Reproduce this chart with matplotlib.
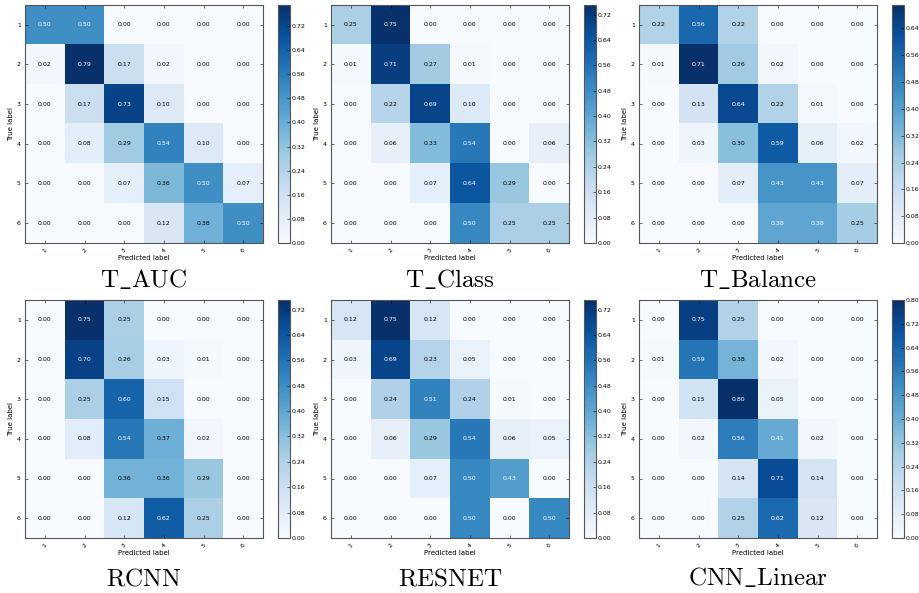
import numpy as np
import matplotlib
matplotlib.use("Agg")
import matplotlib.pyplot as plt
from matplotlib.ticker import MultipleLocator, FormatStrFormatter

plt.rcParams['mathtext.fontset'] = 'cm'

classes = ['1', '2', '3', '4', '5', '6']

# confusion matrices (normalized), rows = true label, cols = predicted label
t_auc = [
    [0.50, 0.50, 0.00, 0.00, 0.00, 0.00],
    [0.02, 0.79, 0.17, 0.02, 0.00, 0.00],
    [0.00, 0.17, 0.73, 0.10, 0.00, 0.00],
    [0.00, 0.08, 0.29, 0.54, 0.10, 0.00],
    [0.00, 0.00, 0.07, 0.36, 0.50, 0.07],
    [0.00, 0.00, 0.00, 0.12, 0.38, 0.50],
]
t_class = [
    [0.25, 0.75, 0.00, 0.00, 0.00, 0.00],
    [0.01, 0.71, 0.27, 0.01, 0.00, 0.00],
    [0.00, 0.22, 0.69, 0.10, 0.00, 0.00],
    [0.00, 0.06, 0.33, 0.54, 0.00, 0.06],
    [0.00, 0.00, 0.07, 0.64, 0.29, 0.00],
    [0.00, 0.00, 0.00, 0.50, 0.25, 0.25],
]
t_balance = [
    [0.22, 0.56, 0.22, 0.00, 0.00, 0.00],
    [0.01, 0.71, 0.26, 0.02, 0.00, 0.00],
    [0.00, 0.13, 0.64, 0.22, 0.01, 0.00],
    [0.00, 0.03, 0.30, 0.59, 0.06, 0.02],
    [0.00, 0.00, 0.07, 0.43, 0.43, 0.07],
    [0.00, 0.00, 0.00, 0.38, 0.38, 0.25],
]
rcnn = [
    [0.00, 0.75, 0.25, 0.00, 0.00, 0.00],
    [0.00, 0.70, 0.26, 0.03, 0.01, 0.00],
    [0.00, 0.25, 0.60, 0.15, 0.00, 0.00],
    [0.00, 0.08, 0.54, 0.37, 0.02, 0.00],
    [0.00, 0.00, 0.36, 0.36, 0.29, 0.00],
    [0.00, 0.00, 0.12, 0.62, 0.25, 0.00],
]
resnet = [
    [0.12, 0.75, 0.12, 0.00, 0.00, 0.00],
    [0.03, 0.69, 0.23, 0.05, 0.00, 0.00],
    [0.00, 0.24, 0.51, 0.24, 0.01, 0.00],
    [0.00, 0.06, 0.29, 0.54, 0.06, 0.05],
    [0.00, 0.00, 0.07, 0.50, 0.43, 0.00],
    [0.00, 0.00, 0.00, 0.50, 0.00, 0.50],
]
cnn_linear = [
    [0.00, 0.75, 0.25, 0.00, 0.00, 0.00],
    [0.01, 0.59, 0.38, 0.02, 0.00, 0.00],
    [0.00, 0.15, 0.80, 0.05, 0.00, 0.00],
    [0.00, 0.02, 0.56, 0.41, 0.02, 0.00],
    [0.00, 0.00, 0.14, 0.71, 0.14, 0.00],
    [0.00, 0.00, 0.25, 0.62, 0.12, 0.00],
]

titles = ['T_AUC', 'T_Class', 'T_Balance', 'RCNN', 'RESNET', 'CNN_Linear']
matrices = [t_auc, t_class, t_balance, rcnn, resnet, cnn_linear]

W, H = 919, 593
fig = plt.figure(figsize=(W / 100, H / 100), dpi=100)

# pixel boxes (left, top) of each image panel
lefts = [25, 331, 639]
tops = [5, 300]
size = 238

for k, (cm, name) in enumerate(zip(matrices, titles)):
    cm = np.array(cm)
    r, c = divmod(k, 3)
    x0, y0 = lefts[c], tops[r]
    ax = fig.add_axes([x0 / W, 1 - (y0 + size) / H, size / W, size / H])
    im = ax.imshow(cm, interpolation='nearest', cmap=plt.cm.Blues, aspect='auto')

    ticks = np.arange(len(classes))
    ax.set_xticks(ticks)
    ax.set_xticklabels(classes, rotation=45, fontsize=4.5)
    ax.set_yticks(ticks)
    ax.set_yticklabels(classes, fontsize=4.5)
    ax.tick_params(direction='in', top=True, right=True, length=2, width=0.4, pad=3)
    for s in ax.spines.values():
        s.set_color('#555555')
        s.set_linewidth(0.8)

    thresh = cm.max() / 2.
    for i in range(cm.shape[0]):
        for j in range(cm.shape[1]):
            ax.text(j, i, format(cm[i, j], '.2f'), ha='center', va='center',
                    fontsize=4.5, color='white' if cm[i, j] > thresh else 'black')

    ax.set_ylabel('True label', fontsize=5, labelpad=2)
    ax.set_xlabel('Predicted label', fontsize=5, labelpad=1)

    cax = fig.add_axes([(x0 + 253) / W, 1 - (y0 + size) / H, 12 / W, size / H])
    cb = fig.colorbar(im, cax=cax)
    cb.locator = MultipleLocator(0.08)
    cb.formatter = FormatStrFormatter('%.2f')
    cb.update_ticks()
    cb.ax.tick_params(labelsize=4.5, direction='in', length=2, width=0.4, pad=1)
    cb.outline.set_edgecolor('#555555')
    cb.outline.set_linewidth(0.8)

    label = r'$\mathrm{' + name.replace('_', r'\_') + '}$'
    cap_y = 280 if r == 0 else 578
    fig.text((x0 + size / 2) / W, 1 - cap_y / H, label, ha='center', va='center',
             fontsize=18)

fig.savefig('out.png', dpi=100)
